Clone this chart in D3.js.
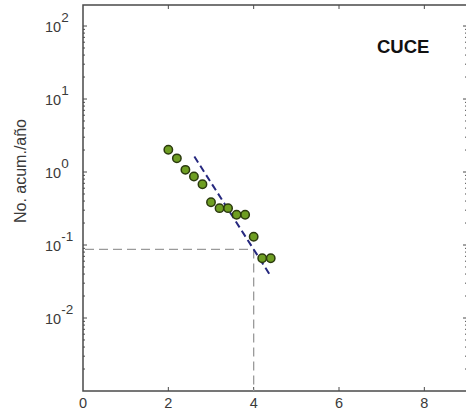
<!DOCTYPE html>
<html>
<head>
<meta charset="utf-8">
<script src="https://cdn.jsdelivr.net/npm/d3@7"></script>
<style>
  html, body { margin: 0; padding: 0; background: #fff; }
  svg { display: block; }
  text { font-family: Arial, "Liberation Sans", sans-serif; }
</style>
</head>
<body>
<svg id="chart" width="466" height="414"></svg>
<script>
// Cumulative annual number of events versus magnitude
const magnitudes = [2.0, 2.2, 2.4, 2.6, 2.8, 3.0, 3.2, 3.4, 3.6, 3.8, 4.0, 4.2, 4.4];
const cumRate   = [2.02, 1.54, 1.07, 0.87, 0.68, 0.385, 0.32, 0.32, 0.26, 0.26, 0.13, 0.066, 0.066];

// Gutenberg-Richter fit: log10 N = a - b M
const fitA = 2.6, fitB = 0.915;
const fitRange = [2.61, 4.41];
const refMag = 4;

const xTicks = [0, 2, 4, 6, 8];
const yExponents = [-2, -1, 0, 1, 2];
const panelLabel = "CUCE";
const yTitle = "No. acum./año";

const svg = d3.select("#chart");
const plotL = 83, plotR = 467, plotT = 5, plotB = 391;

const x = d3.scaleLinear().domain([0, 9]).range([plotL, plotR]);
const y = d3.scaleLog().domain([1e-3, Math.pow(10, 2.288)]).range([plotB, plotT]);

const frameColor = "#4a4a4a";
const textColor = "#3a3a3a";

// Inward ticks on all four sides
const tickG = svg.append("g").attr("stroke", frameColor).attr("stroke-width", 1);
const minorVals = [];
for (let e = -3; e <= 2; e++) {
  for (let m = 2; m <= 9; m++) {
    const v = m * Math.pow(10, e);
    if (v < y.domain()[1]) minorVals.push(v);
  }
}
const majorVals = yExponents.map(e => Math.pow(10, e));
[plotL, plotR].forEach(xe => {
  const dir = xe === plotL ? 1 : -1;
  tickG.selectAll(null).data(majorVals).join("line")
    .attr("x1", xe).attr("x2", xe + dir * 4)
    .attr("y1", d => y(d)).attr("y2", d => y(d));
  tickG.selectAll(null).data(minorVals).join("line")
    .attr("x1", xe).attr("x2", xe + dir * 2)
    .attr("y1", d => y(d)).attr("y2", d => y(d));
});
[plotB, plotT].forEach(ye => {
  const dir = ye === plotB ? -1 : 1;
  tickG.selectAll(null).data(xTicks.filter(d => d > 0)).join("line")
    .attr("x1", d => x(d)).attr("x2", d => x(d))
    .attr("y1", ye).attr("y2", ye + dir * 4);
});

// Frame
svg.append("rect")
  .attr("x", plotL).attr("y", plotT)
  .attr("width", plotR - plotL).attr("height", plotB - plotT)
  .attr("fill", "none").attr("stroke", frameColor).attr("stroke-width", 1.5);

// X tick labels
svg.append("g").selectAll("text").data(xTicks).join("text")
  .attr("x", d => x(d)).attr("y", plotB + 17)
  .attr("text-anchor", "middle")
  .attr("font-size", 14.5).attr("fill", textColor)
  .text(d => d);

// Y tick labels as powers of ten
const yLab = svg.append("g").selectAll("text").data(yExponents).join("text")
  .attr("x", 45).attr("y", d => y(Math.pow(10, d)) + 6)
  .attr("font-size", 14.5).attr("fill", textColor);
yLab.append("tspan").text("10");
yLab.append("tspan").attr("dy", -10).attr("font-size", 13.5).text(d => d);

// Y title
svg.append("text")
  .attr("transform", "translate(26,171) rotate(-90)")
  .attr("text-anchor", "middle")
  .attr("font-size", 16).attr("fill", textColor)
  .text(yTitle);

// Panel label
svg.append("text")
  .attr("x", 377).attr("y", 53)
  .attr("font-size", 18.5).attr("font-weight", "bold").attr("fill", "#111")
  .text(panelLabel);

// Reference crosshair at magnitude 4 on the fitted line
const refRate = Math.pow(10, fitA - fitB * refMag);
const cross = svg.append("g")
  .attr("stroke", "#9a9a9a").attr("stroke-width", 1.3)
  .attr("stroke-dasharray", "9,5").attr("fill", "none");
cross.append("line")
  .attr("x1", x(0) + 2).attr("x2", x(refMag))
  .attr("y1", y(refRate)).attr("y2", y(refRate));
cross.append("line")
  .attr("x1", x(refMag)).attr("x2", x(refMag))
  .attr("y1", y(refRate)).attr("y2", plotB);

// Fitted line
const fitLine = d3.line()
  .x(d => x(d))
  .y(d => y(Math.pow(10, fitA - fitB * d)));
svg.append("path")
  .datum(fitRange)
  .attr("d", fitLine)
  .attr("fill", "none").attr("stroke", "#26287f")
  .attr("stroke-width", 2).attr("stroke-dasharray", "7,4");

// Observed points
svg.append("g").selectAll("circle").data(magnitudes).join("circle")
  .attr("cx", d => x(d))
  .attr("cy", (d, i) => y(cumRate[i]))
  .attr("r", 4.2)
  .attr("fill", "#6e9e22")
  .attr("stroke", "#2b3a0e").attr("stroke-width", 1.5);
</script>
</body>
</html>
